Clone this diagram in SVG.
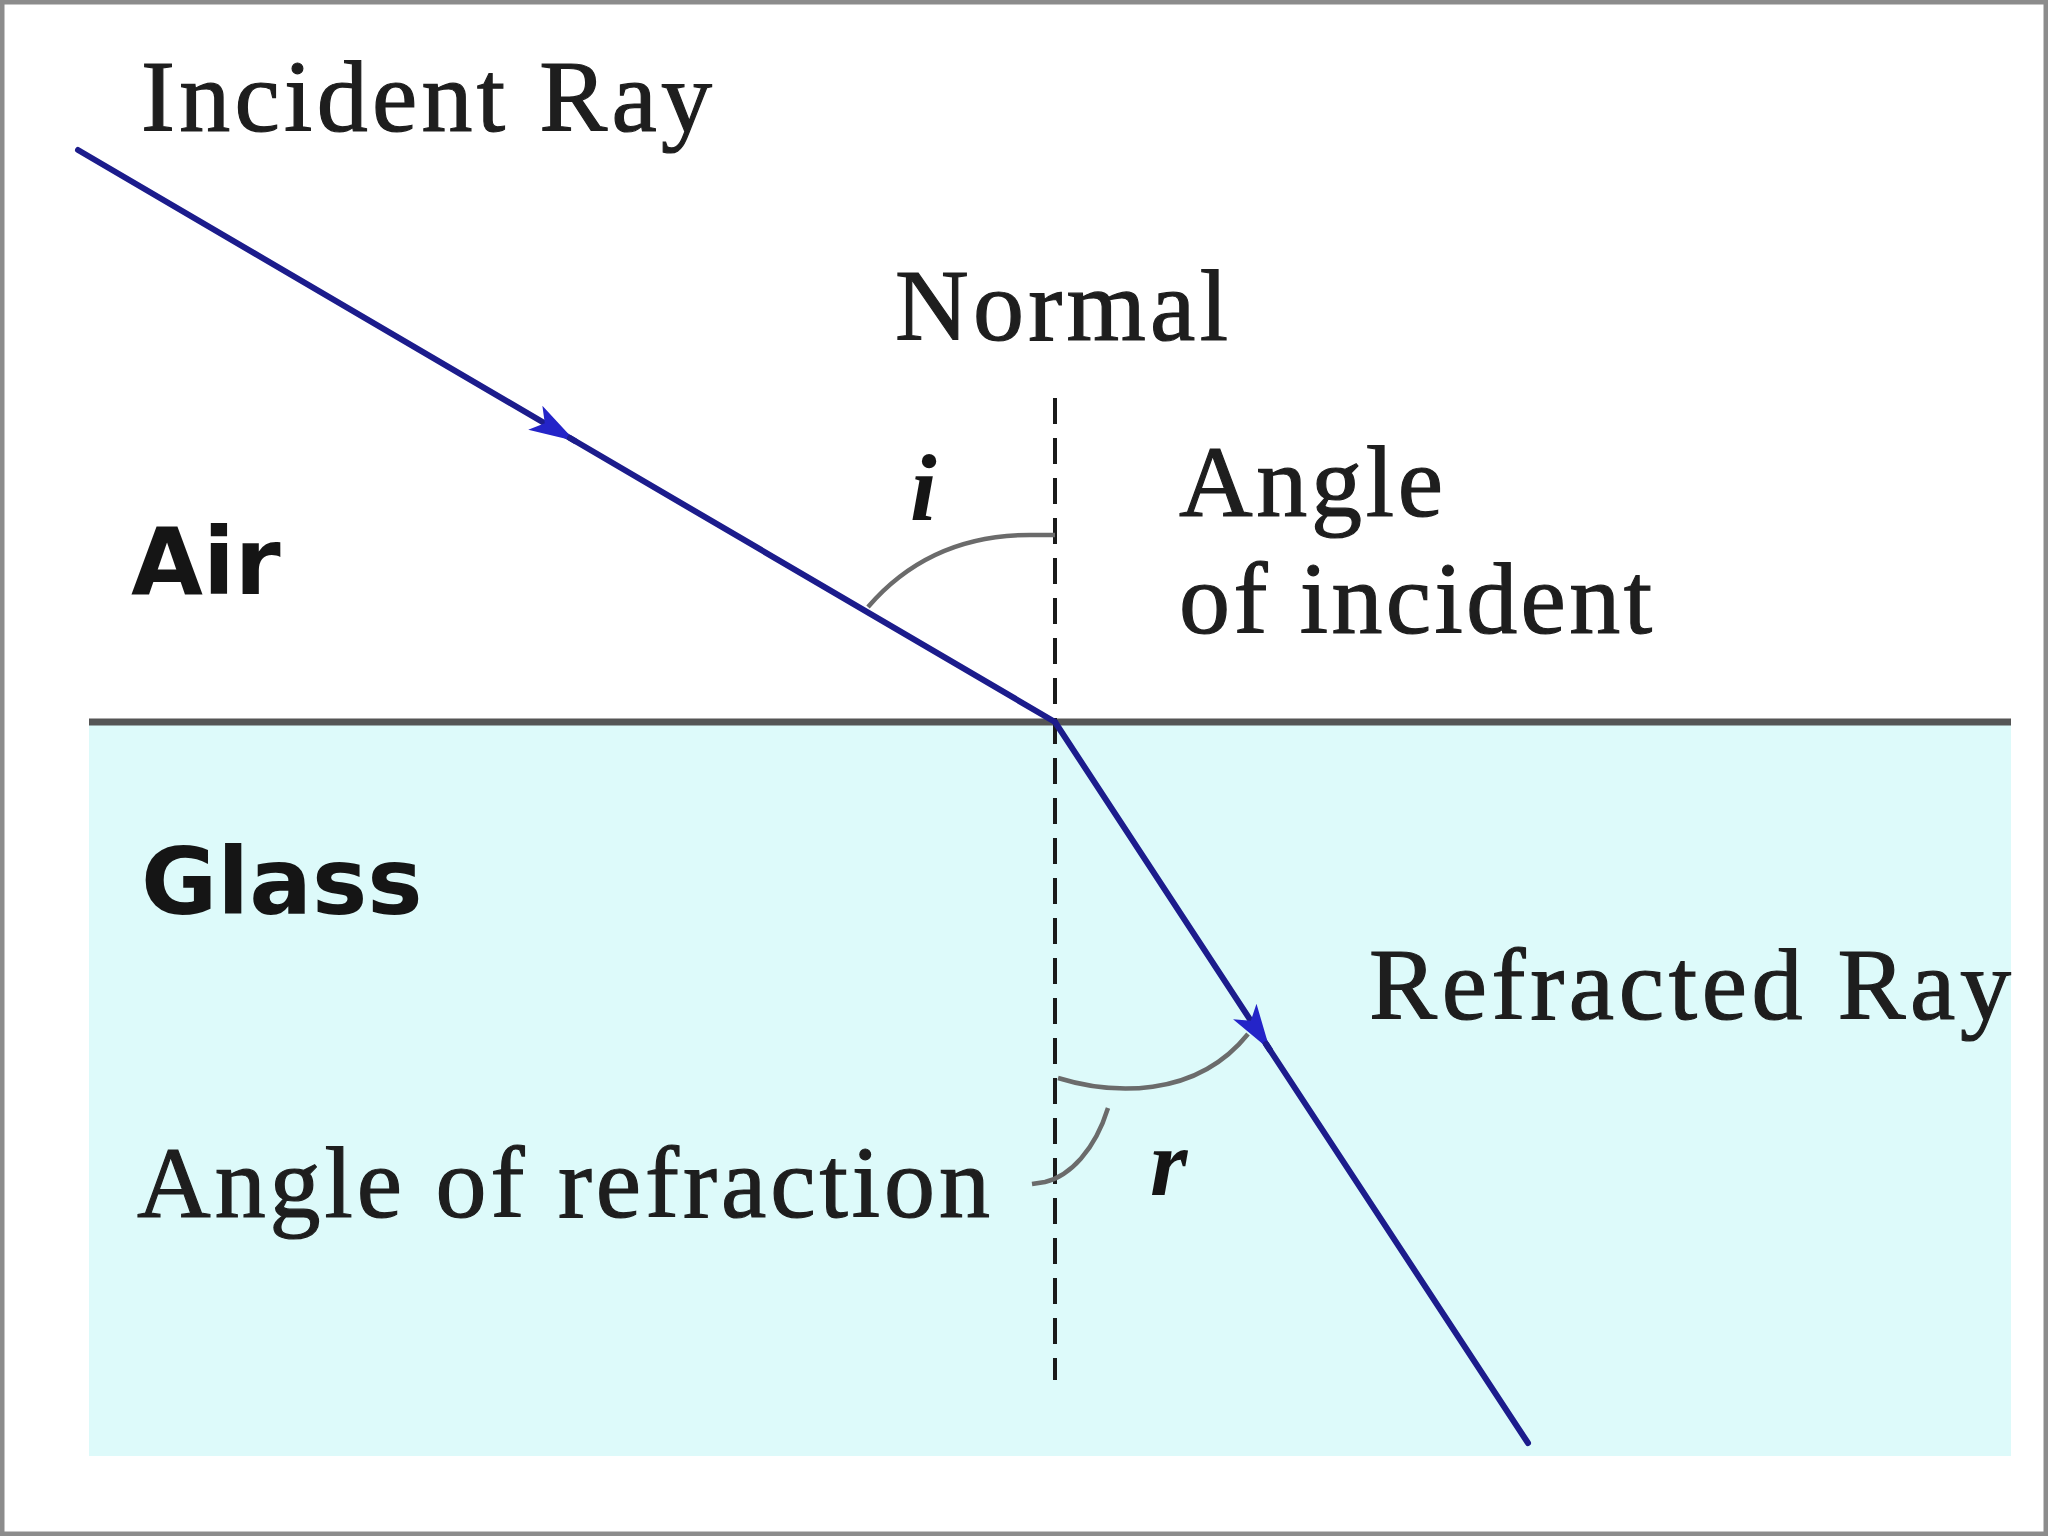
<svg xmlns="http://www.w3.org/2000/svg" width="2048" height="1536" viewBox="0 0 2048 1536">
  <defs>
    <style>
      .serif { font-family: "Liberation Serif", "Times New Roman", serif; fill: #1e1e1e; stroke: #1e1e1e; stroke-width: 1.2; font-size: 102px; }
      .bold { font-family: "DejaVu Sans", Verdana, sans-serif; font-weight: bold; fill: #151515; font-size: 93px; }
      .ital { font-family: "Liberation Serif", serif; font-style: italic; font-weight: bold; fill: #151515; font-size: 96px; }
      .ray { stroke: #1c1c8c; stroke-width: 6; fill: none; stroke-linecap: round; }
      .arc { stroke: #6b6b6b; stroke-width: 4.5; fill: none; }
    </style>
    <marker id="arrow" markerUnits="userSpaceOnUse" markerWidth="60" markerHeight="40" viewBox="-50 -20 60 40" refX="0" refY="0" orient="auto">
      <path d="M0,0 L-46,-14 L-35,0 L-46,14 Z" fill="#2424c8"/>
    </marker>
  </defs>

  <rect x="0" y="0" width="2048" height="1536" fill="#ffffff"/>
  <rect x="2" y="2" width="2044" height="1532" fill="none" stroke="#8c8c8c" stroke-width="5"/>

  <g id="glass">
    <rect x="89" y="725" width="1922" height="731" fill="#ddfafa"/>
  </g>
  <g id="interface">
    <line x1="89" y1="722" x2="2011" y2="722" stroke="#555555" stroke-width="7"/>
  </g>

  <g id="normal">
    <line x1="1055" y1="398" x2="1055" y2="1380" stroke="#1a1a1a" stroke-width="4" stroke-dasharray="26 14"/>
  </g>

  <g id="connectors">
    <line class="ray" x1="78" y1="150" x2="575" y2="441" marker-end="url(#arrow)"/>
    <line class="ray" x1="570" y1="438" x2="1055" y2="722"/>
    <line class="ray" x1="1055" y1="722" x2="1270" y2="1050" marker-end="url(#arrow)"/>
    <line class="ray" x1="1266" y1="1044" x2="1528" y2="1443"/>
  </g>

  <g id="angle-i">
    <path class="arc" d="M868,607 Q930,535 1030,535 L1055,535"/>
    <text class="ital" x="910" y="520">i</text>
  </g>

  <g id="angle-r">
    <path class="arc" d="M1058,1078 C1110,1094 1195,1100 1248,1034"/>
    <path class="arc" d="M1108,1108 C1095,1150 1070,1176 1045,1182 L1032,1184"/>
    <text class="ital" x="1150" y="1195">r</text>
  </g>

  <g id="label-incident-ray">
    <text class="serif" x="141" y="131" textLength="571" lengthAdjust="spacing">Incident Ray</text>
  </g>
  <g id="label-normal">
    <text class="serif" x="895" y="340" textLength="333" lengthAdjust="spacing">Normal</text>
  </g>
  <g id="label-angle-incident">
    <text class="serif" x="1179" y="516" textLength="264" lengthAdjust="spacing">Angle</text>
    <text class="serif" x="1179" y="633" textLength="473" lengthAdjust="spacing">of incident</text>
  </g>
  <g id="label-air">
    <text class="bold" x="131" y="594">Air</text>
  </g>
  <g id="label-glass">
    <text class="bold" x="141" y="914">Glass</text>
  </g>
  <g id="label-refracted-ray">
    <text class="serif" x="1369" y="1019" textLength="642" lengthAdjust="spacing">Refracted Ray</text>
  </g>
  <g id="label-angle-refraction">
    <text class="serif" x="137" y="1217" textLength="853" lengthAdjust="spacing">Angle of refraction</text>
  </g>
</svg>
